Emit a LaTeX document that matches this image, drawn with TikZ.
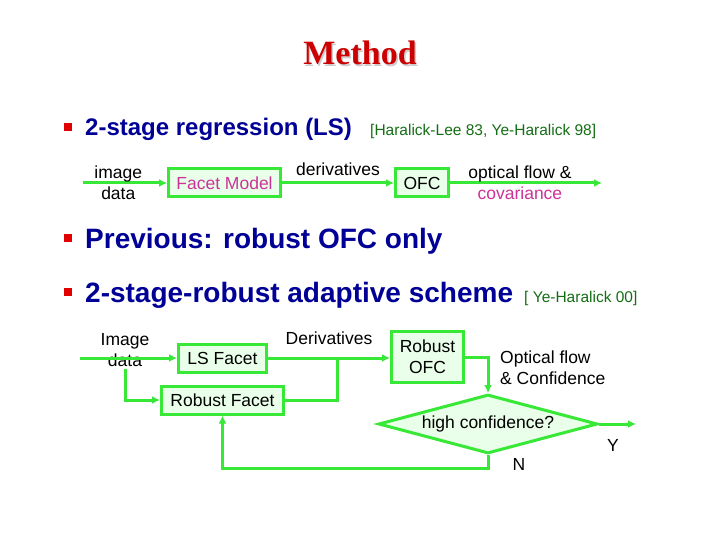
\documentclass[tikz,border=0pt]{standalone}
\usepackage{fontspec}
\setmainfont{Liberation Sans}
\newfontfamily\titlefont{Liberation Serif}
\usetikzlibrary{positioning,shapes.geometric,arrows.meta}

\definecolor{flowgreen}{RGB}{55,232,55}
\definecolor{boxfill}{RGB}{234,255,234}
\definecolor{navyblue}{RGB}{0,0,150}
\definecolor{bulletred}{RGB}{225,0,0}
\definecolor{titlered}{RGB}{204,0,0}
\definecolor{citegreen}{RGB}{20,110,20}
\definecolor{pinktext}{RGB}{204,51,153}

\begin{document}
\begin{tikzpicture}[
        x=1pt, y=-1pt,
        txt/.style={font=\fontsize{17.5}{21}\selectfont, text=black, inner sep=2pt, align=center},
        box/.style={txt, draw=flowgreen, fill=boxfill, line width=3pt, minimum height=28pt, inner xsep=6pt},
        decision/.style={txt, diamond, draw=flowgreen, fill=boxfill, line width=3pt, aspect=3.6, minimum width=219pt, minimum height=59pt},
        heading/.style={font=\titlefont\bfseries\fontsize{34}{40}\selectfont},
        bulletsq/.style={fill=bulletred, minimum size=7.5pt, inner sep=0pt},
        bullettext/.style={anchor=base west, text=navyblue, font=\bfseries\fontsize{28}{32}\selectfont, inner sep=0pt},
        cite/.style={anchor=base west, text=citegreen, font=\fontsize{15.5}{18}\selectfont, inner sep=0pt},
        arr/.style={-{Latex[length=8pt,width=8pt]}, line width=3pt, flowgreen},
        wire/.style={line width=3pt, flowgreen},
      ]

      \fill[white] (0,0) rectangle (720,540);

      % title
      \node[heading, text=gray!40] (titleshade) at (361.5,54.5) {Method};
      \node[heading, text=titlered] (title) at (360,53) {Method};

      % bullets
      \node[bulletsq] (sq1) at (68,127) {};
      \node[bullettext, font=\bfseries\fontsize{24}{28}\selectfont] (pt1) at (85,135.5) {2-stage regression (LS)};
      \node[cite] (cite1) at (370,135.5) {[Haralick-Lee 83, Ye-Haralick 98]};

      \node[bulletsq] (sq2) at (68,238) {};
      \node[bullettext] (pt2) at (85,248) {Previous: robust OFC only};

      \node[bulletsq] (sq3) at (68,292) {};
      \node[bullettext] (pt3) at (85,302) {2-stage-robust adaptive scheme};
      \node[cite] (cite3) at (524,302) {[ Ye-Haralick 00]};

      % 2-stage LS scheme
      \node[box, minimum width=112pt] (facet) at (224.5,183) {\textcolor{pinktext}{Facet Model}};
      \node[box, minimum width=53pt, right=112pt of facet] (ofc) {OFC};
      \coordinate (facetin) at (83,183);
      \coordinate (ofcout) at (602,183);

      \draw[arr] (facetin) -- node[txt, pos=0.42] {image\\data} (facet.west);
      \draw[arr] (facet.east) -- node[txt, midway, above=3.5pt] {derivatives} (ofc.west);
      \draw[arr] (ofc.east) -- node[txt, pos=0.46] {optical flow \&\\\textcolor{pinktext}{covariance}} (ofcout);

      % 2-stage robust adaptive scheme
      \node[txt] (imgtxt) at (125,350) {Image\\data};
      \node[box, minimum width=88pt] (lsfacet) at (222.5,358) {LS Facet};
      \node[box, minimum width=122pt, below=11pt of lsfacet] (robfacet) {Robust Facet};
      \node[box, minimum width=72pt, minimum height=51pt] (robofc) at (427.5,357) {Robust\\OFC};
      \node[decision] (dec) at (488,424) {high confidence?};
      \node[txt, align=left, anchor=west] (flowtxt) at (498,368) {Optical flow\\\& Confidence};

      \coordinate (lsin) at (80,358);
      \coordinate (merge) at (337,358);
      \coordinate (yout) at (636,424);

      \draw[arr] (lsin) -- (lsfacet.west);
      \draw[arr] (imgtxt.south) |- (robfacet.west);
      \draw[arr] (lsfacet.east) -- node[txt, midway, above=10pt] {Derivatives} (lsfacet.east -| robofc.west);
      \draw[wire] (robfacet.east) -| (merge);
      \draw[arr] (robofc.east) -| (dec.north);
      \draw[arr] (dec.east) -- node[txt, pos=0.38, below=12pt] {Y} (yout);
      \draw[arr] (dec.south) -- ++(0,13) node[txt, anchor=base west, inner sep=0pt, xshift=23pt, yshift=-2pt] {N} -| (robfacet.south);

    \end{tikzpicture}
\end{document}
